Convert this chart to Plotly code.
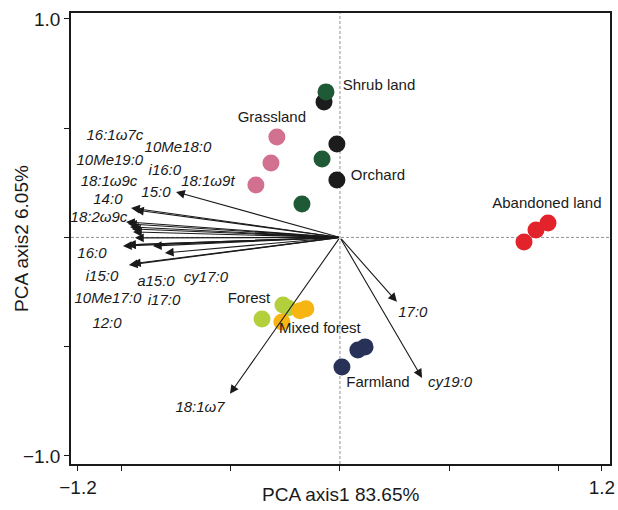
import plotly.graph_objects as go

# ---- Sample scores (PCA axis1, PCA axis2) ----
orchard_x = [-0.073, -0.014, -0.014]
orchard_y = [0.620, 0.428, 0.263]
shrub_x = [-0.064, -0.082, -0.174]
shrub_y = [0.666, 0.359, 0.153]
grass_x = [-0.289, -0.316, -0.385]
grass_y = [0.460, 0.341, 0.240]
abandoned_x = [0.843, 0.898, 0.953]
abandoned_y = [-0.021, 0.034, 0.066]
forest_x = [-0.261, -0.238, -0.357]
forest_y = [-0.309, -0.323, -0.373]
mixed_x = [-0.183, -0.156, -0.266]
mixed_y = [-0.336, -0.327, -0.387]
farm_x = [0.115, 0.082, 0.009]
farm_y = [-0.501, -0.515, -0.593]

# ---- PLFA loadings (arrow tips) ----
plfa_names = ["16:1ω7c", "10Me18:0", "10Me19:0", "i16:0", "18:1ω9c", "18:1ω9t",
              "15:0", "14:0", "18:2ω9c", "16:0", "i15:0", "a15:0", "cy17:0",
              "10Me17:0", "i17:0", "12:0", "18:1ω7", "17:0", "cy19:0"]
plfa_x = [-0.957, -0.939, -0.980, -0.971, -0.962, -0.953,
          -0.751, -0.948, -0.939, -0.994, -0.976, -0.857, -0.802,
          -0.967, -0.953, -0.976, -0.504, 0.261, 0.376]
plfa_y = [0.135, 0.126, 0.071, 0.062, 0.048, 0.039,
          0.208, 0.025, -0.002, -0.039, -0.034, -0.039, -0.071,
          -0.126, -0.121, -0.034, -0.716, -0.295, -0.643]
# label anchor positions for PLFA names
plfa_lx = [-1.031, -0.742, -1.054, -0.802, -1.058, -0.605,
           -0.843, -1.063, -1.104, -1.136, -1.090, -0.843, -0.614,
           -1.063, -0.806, -1.067, -0.641, 0.334, 0.504]
plfa_ly = [0.465, 0.410, 0.350, 0.304, 0.254, 0.254,
           0.204, 0.171, 0.086, -0.076, -0.181, -0.204, -0.185,
           -0.281, -0.291, -0.396, -0.780, -0.346, -0.666]

# ---- Group labels ----
group_names = ["Shrub land", "Grassland", "Orchard", "Abandoned land",
               "Forest", "Mixed forest", "Farmland"]
group_lx = [0.179, -0.312, 0.174, 0.948, -0.417, -0.092, 0.174]
group_ly = [0.693, 0.547, 0.281, 0.153, -0.281, -0.419, -0.666]

x_tickvals = [-1.2, -1.0, -0.5, 0, 0.5, 1.0, 1.2]
x_ticktext = ["−1.2", "", "", "", "", "", "1.2"]
y_tickvals = [-1.0, -0.5, 0, 0.5, 1.0]
y_ticktext = ["−1.0", "", "", "", "1.0"]

FONT = "Liberation Sans, Arial, sans-serif"
INK = "#1a1a1a"

fig = go.Figure()

# reference dashed lines
fig.add_shape(type="line", xref="x", yref="paper", x0=0, x1=0, y0=0, y1=1,
              line=dict(color="#777", width=0.8, dash="3px,2px"), layer="below")
fig.add_shape(type="line", xref="paper", yref="y", x0=0, x1=1, y0=0, y1=0,
              line=dict(color="#777", width=0.8, dash="3px,2px"), layer="below")

# arrows
for tx, ty in zip(plfa_x, plfa_y):
    fig.add_annotation(x=tx, y=ty, ax=0, ay=0, xref="x", yref="y", axref="x", ayref="y",
                       text="", showarrow=True, arrowhead=2, arrowsize=1.6,
                       arrowwidth=1.1, arrowcolor=INK, standoff=0, startstandoff=0)

groups = [
    (orchard_x, orchard_y, "#1c1c1c"),
    (shrub_x, shrub_y, "#1f5a36"),
    (grass_x, grass_y, "#d2708f"),
    (abandoned_x, abandoned_y, "#e2232b"),
    (forest_x, forest_y, "#b3cf3c"),
    (mixed_x, mixed_y, "#f6b512"),
    (farm_x, farm_y, "#283258"),
]
for gx, gy, col in groups:
    fig.add_trace(go.Scatter(x=gx, y=gy, mode="markers",
                             marker=dict(size=17, color=col, line=dict(width=0)),
                             showlegend=False, hoverinfo="skip"))

fig.add_trace(go.Scatter(x=plfa_lx, y=plfa_ly, mode="text", text=plfa_names,
                         textfont=dict(family=FONT, size=15, color=INK, style="italic"),
                         showlegend=False, hoverinfo="skip"))
fig.add_trace(go.Scatter(x=group_lx, y=group_ly, mode="text", text=group_names,
                         textfont=dict(family=FONT, size=15, color=INK),
                         showlegend=False, hoverinfo="skip"))

# axis titles
fig.add_annotation(text="PCA axis1 83.65%", xref="paper", yref="paper", x=0.5, y=-0.067,
                   xanchor="center", yanchor="middle", showarrow=False,
                   font=dict(family=FONT, size=19, color=INK))
fig.add_annotation(text="PCA axis2 6.05%", xref="paper", yref="paper", x=-0.093, y=0.501,
                   xanchor="center", yanchor="middle", showarrow=False, textangle=-90,
                   font=dict(family=FONT, size=19, color=INK))

fig.update_layout(
    width=618, height=510,
    margin=dict(l=71, r=8, t=13, b=46, autoexpand=False),
    paper_bgcolor="white", plot_bgcolor="white",
    font=dict(family=FONT, color=INK),
    xaxis=dict(range=[-1.232, 1.237], tickvals=x_tickvals, ticktext=x_ticktext,
               showgrid=False, zeroline=False, showline=True, mirror=True, automargin=False,
               linecolor=INK, linewidth=1.6, ticks="outside", ticklen=5,
               tickcolor=INK, tickwidth=1.2, tickfont=dict(size=19, family=FONT, color=INK)),
    yaxis=dict(range=[-1.037, 1.027], tickvals=y_tickvals, ticktext=y_ticktext,
               showgrid=False, zeroline=False, showline=True, mirror=True, automargin=False,
               linecolor=INK, linewidth=1.6, ticks="outside", ticklen=5,
               tickcolor=INK, tickwidth=1.2, tickfont=dict(size=19, family=FONT, color=INK)),
)

fig.write_html("out.html", config={"displayModeBar": False},
               post_script="document.body.style.margin='0';document.body.style.overflow='hidden';")
